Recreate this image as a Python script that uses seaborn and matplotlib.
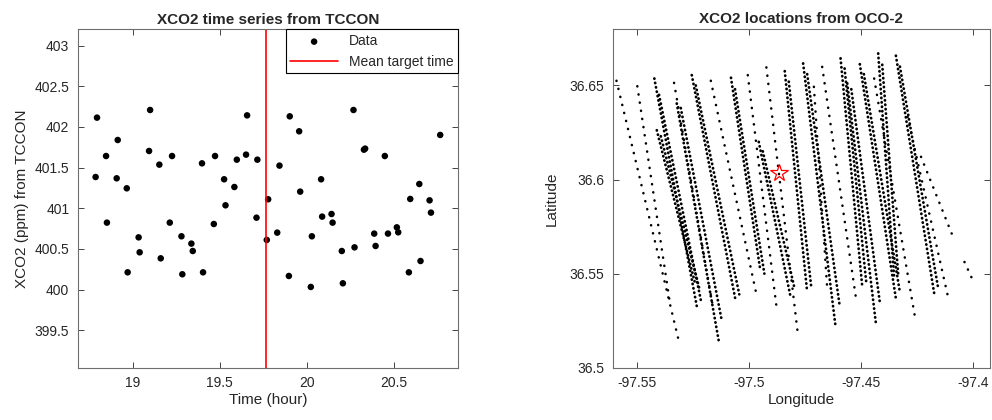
import matplotlib
matplotlib.use("Agg")
import matplotlib.pyplot as plt
from matplotlib.ticker import FuncFormatter
import seaborn as sns
import pandas as pd

# --- TCCON time series (hour, ppm) ---
tccon_hour = [18.787, 18.795, 18.847, 18.852, 18.908, 18.914, 18.966, 18.971, 19.034, 19.040,
              19.094, 19.100, 19.153, 19.161, 19.213, 19.226, 19.280, 19.285, 19.337, 19.345,
              19.398, 19.404, 19.466, 19.473, 19.525, 19.533, 19.584, 19.598, 19.651, 19.657,
              19.711, 19.716, 19.770, 19.778, 19.830, 19.843, 19.897, 19.902, 19.956, 19.962,
              20.023, 20.029, 20.082, 20.088, 20.142, 20.148, 20.201, 20.207, 20.268, 20.274,
              20.328, 20.335, 20.387, 20.395, 20.448, 20.466, 20.517, 20.525, 20.586, 20.594,
              20.646, 20.653, 20.705, 20.713, 20.766]
tccon_xco2 = [401.385, 402.115, 401.643, 400.824, 401.369, 401.840, 401.246, 400.213, 400.643, 400.459,
              401.705, 402.209, 401.537, 400.385, 400.824, 401.643, 400.656, 400.189, 400.566, 400.475,
              401.553, 400.213, 400.807, 401.643, 401.357, 401.037, 401.262, 401.598, 401.660, 402.143,
              400.885, 401.598, 400.611, 401.111, 400.701, 401.525, 400.168, 402.131, 401.947, 401.205,
              400.033, 400.656, 401.357, 400.898, 400.930, 400.824, 400.475, 400.078, 402.209, 400.520,
              401.721, 401.734, 400.689, 400.537, 401.643, 400.689, 400.766, 400.705, 400.213, 401.115,
              401.299, 400.352, 401.098, 400.947, 401.902]
mean_target_time = 19.764

# --- OCO-2 footprint tracks: (lon_top, lat_top, lon_bottom, lat_bottom) ---
dense_tracks = [
    (-97.5421, 36.6537, -97.5231, 36.5323),
    (-97.5400, 36.6450, -97.5212, 36.5350),
    (-97.5410, 36.6262, -97.5239, 36.5447),
    (-97.5392, 36.6230, -97.5220, 36.5420),
    (-97.5321, 36.6404, -97.5134, 36.5145),
    (-97.5303, 36.6380, -97.5120, 36.5250),
    (-97.5254, 36.6555, -97.5060, 36.5367),
    (-97.5236, 36.6500, -97.5042, 36.5390),
    (-97.5079, 36.6541, -97.4948, 36.5518),
    (-97.5061, 36.6480, -97.4930, 36.5500),
    (-97.4955, 36.6200, -97.4813, 36.5376),
    (-97.4937, 36.6150, -97.4795, 36.5420),
    (-97.4839, 36.6576, -97.4739, 36.5403),
    (-97.4821, 36.6520, -97.4721, 36.5430),
    (-97.4757, 36.6617, -97.4612, 36.5216),
    (-97.4739, 36.6560, -97.4594, 36.5330),
    (-97.4590, 36.6644, -97.4493, 36.5429),
    (-97.4572, 36.6590, -97.4475, 36.5450),
    (-97.4560, 36.6511, -97.4433, 36.5243),
    (-97.4542, 36.6480, -97.4415, 36.5350),
    (-97.4504, 36.6613, -97.4343, 36.5367),
    (-97.4486, 36.6560, -97.4325, 36.5400),
    (-97.4422, 36.6670, -97.4351, 36.5482),
    (-97.4404, 36.6610, -97.4333, 36.5500),
    (-97.4343, 36.6658, -97.4172, 36.5394),
    (-97.4325, 36.6600, -97.4154, 36.5420),
]
sparse_tracks = [
    (-97.5590, 36.6525, -97.5309, 36.5128),
    (-97.5497, 36.6496, -97.5351, 36.5340),
    (-97.5333, 36.6514, -97.5157, 36.5305),
    (-97.5169, 36.6525, -97.4963, 36.5376),
    (-97.5004, 36.6555, -97.4873, 36.5296),
    (-97.4921, 36.6596, -97.4781, 36.5184),
    (-97.4709, 36.6493, -97.4649, 36.5411),
    (-97.4672, 36.6599, -97.4522, 36.5376),
    (-97.4440, 36.6537, -97.4258, 36.5270),
    (-97.4291, 36.6333, -97.4112, 36.5385),
    (-97.4231, 36.6121, -97.4082, 36.5677),
    (-97.4037, 36.5562, -97.4000, 36.5465),
]
site_lon = -97.4866
site_lat = 36.6037

sns.set_style("ticks")
plt.rcParams['font.family'] = ['Liberation Sans', 'DejaVu Sans']
plt.rcParams['axes.edgecolor'] = '#262626'
plt.rcParams['xtick.color'] = '#262626'
plt.rcParams['ytick.color'] = '#262626'
plt.rcParams['axes.labelcolor'] = '#262626'

fig = plt.figure(figsize=(9.92, 4.2), dpi=100)
ax1 = fig.add_axes([0.0783, 0.1245, 0.3837, 0.8055])
ax2 = fig.add_axes([0.6176, 0.1245, 0.3804, 0.8065])

fmt = FuncFormatter(lambda v, p: f"{v:g}")

# Left: TCCON time series
df = pd.DataFrame({"hour": tccon_hour, "xco2": tccon_xco2})
sns.scatterplot(data=df, x="hour", y="xco2", ax=ax1, color="black", s=22,
                edgecolor="none", label="Data")
ax1.axvline(mean_target_time, color="red", lw=1.2, label="Mean target time")
ax1.set_xlim(18.684, 20.87)
ax1.set_ylim(399.04, 403.2)
ax1.set_xticks([19, 19.5, 20, 20.5])
ax1.set_yticks([399.5, 400, 400.5, 401, 401.5, 402, 402.5, 403])
ax1.set_title("XCO2 time series from TCCON", fontsize=11, fontweight="bold", pad=4)
ax1.set_xlabel("Time (hour)", fontsize=11, labelpad=2)
ax1.set_ylabel("XCO2 (ppm) from TCCON", fontsize=11, labelpad=4)
leg = ax1.legend(loc="upper right", borderaxespad=0, fancybox=False, framealpha=1,
                 edgecolor="black", fontsize=10, handlelength=3.4, markerscale=1.0,
                 borderpad=0.35, labelspacing=0.45)
leg.get_frame().set_linewidth(0.8)

# Right: OCO-2 locations
for lon0, lat0, lon1, lat1 in dense_tracks:
    ax2.plot([lon0, lon1], [lat0, lat1], color="black", lw=2.0,
             linestyle=(0, (0.1, 1.5)), dash_capstyle="round")
for lon0, lat0, lon1, lat1 in sparse_tracks:
    ax2.plot([lon0, lon1], [lat0, lat1], color="black", lw=1.8,
             linestyle=(0, (0.1, 3.2)), dash_capstyle="round")
ax2.plot(site_lon, site_lat, marker="*", ms=13, mfc="none", mec="red", mew=0.9)
ax2.set_xlim(-97.5607, -97.3923)
ax2.set_ylim(36.5, 36.68)
ax2.set_xticks([-97.55, -97.5, -97.45, -97.4])
ax2.set_yticks([36.5, 36.55, 36.6, 36.65])
ax2.set_title("XCO2 locations from OCO-2", fontsize=11, fontweight="bold", pad=4)
ax2.set_xlabel("Longitude", fontsize=11, labelpad=2)
ax2.set_ylabel("Latitude", fontsize=11, labelpad=8)

for ax in (ax1, ax2):
    ax.xaxis.set_major_formatter(fmt)
    ax.yaxis.set_major_formatter(fmt)
    ax.tick_params(direction="in", top=True, right=True, labelsize=10, length=4, width=0.6, pad=6)
    for s in ax.spines.values():
        s.set_visible(True)
        s.set_linewidth(0.8)
        s.set_color('#6e6e6e')

fig.savefig("out.png", dpi=100)
